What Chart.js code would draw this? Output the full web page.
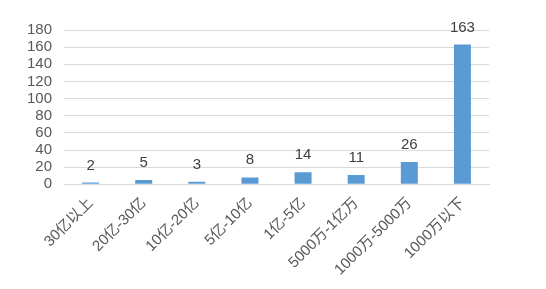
<!DOCTYPE html>
<html>
<head>
<meta charset="utf-8">
<script src="https://cdn.jsdelivr.net/npm/chart.js@4"></script>
<style>
  html, body { margin: 0; padding: 0; background: #fff; }
  #wrap { width: 546px; height: 289px; }
</style>
</head>
<body>
<div id="wrap"><canvas id="c"></canvas></div>
<script>
const categories = ['30亿以上', '20亿-30亿', '10亿-20亿', '5亿-10亿', '1亿-5亿', '5000万-1亿万', '1000万-5000万', '1000万以下'];
const counts = [2, 5, 3, 8, 14, 11, 26, 163];
const yTicks = [0, 20, 40, 60, 80, 100, 120, 140, 160, 180];

const textGray = '#595959';
const gridGray = '#d9d9d9';

// value labels above each bar
const valueLabels = {
  id: 'valueLabels',
  afterDatasetsDraw(chart) {
    const ctx = chart.ctx;
    const meta = chart.getDatasetMeta(0);
    ctx.save();
    ctx.font = '15px "Liberation Sans", Arial, sans-serif';
    ctx.fillStyle = '#404040';
    ctx.textAlign = 'center';
    ctx.textBaseline = 'alphabetic';
    meta.data.forEach((bar, i) => {
      ctx.fillText(String(counts[i]), bar.x, bar.y - 13);
    });
    ctx.restore();
  }
};

new Chart(document.getElementById('c'), {
  type: 'bar',
  data: {
    labels: categories,
    datasets: [{
      data: counts,
      backgroundColor: '#5b9bd5',
      categoryPercentage: 1,
      barPercentage: 0.32
    }]
  },
  options: {
    responsive: true,
    maintainAspectRatio: false,
    animation: false,
    layout: { padding: { left: 15, right: 57, top: 30, bottom: 0 } },
    plugins: {
      legend: { display: false },
      tooltip: { enabled: false }
    },
    scales: {
      x: {
        grid: { display: false, drawTicks: false },
        border: { color: gridGray },
        ticks: {
          color: textGray,
          font: { family: '"Liberation Sans", "Noto Sans CJK SC", sans-serif', size: 15 },
          minRotation: 45,
          maxRotation: 45,
          padding: 10,
          autoSkip: false
        }
      },
      y: {
        min: 0,
        max: 180,
        afterBuildTicks(axis) {
          axis.ticks = yTicks.map((v) => ({ value: v }));
        },
        grid: { color: gridGray, drawTicks: false },
        border: { display: false },
        ticks: {
          color: textGray,
          font: { family: '"Liberation Sans", Arial, sans-serif', size: 15 },
          padding: 12,
          autoSkip: false
        }
      }
    }
  },
  plugins: [valueLabels]
});
</script>
</body>
</html>
